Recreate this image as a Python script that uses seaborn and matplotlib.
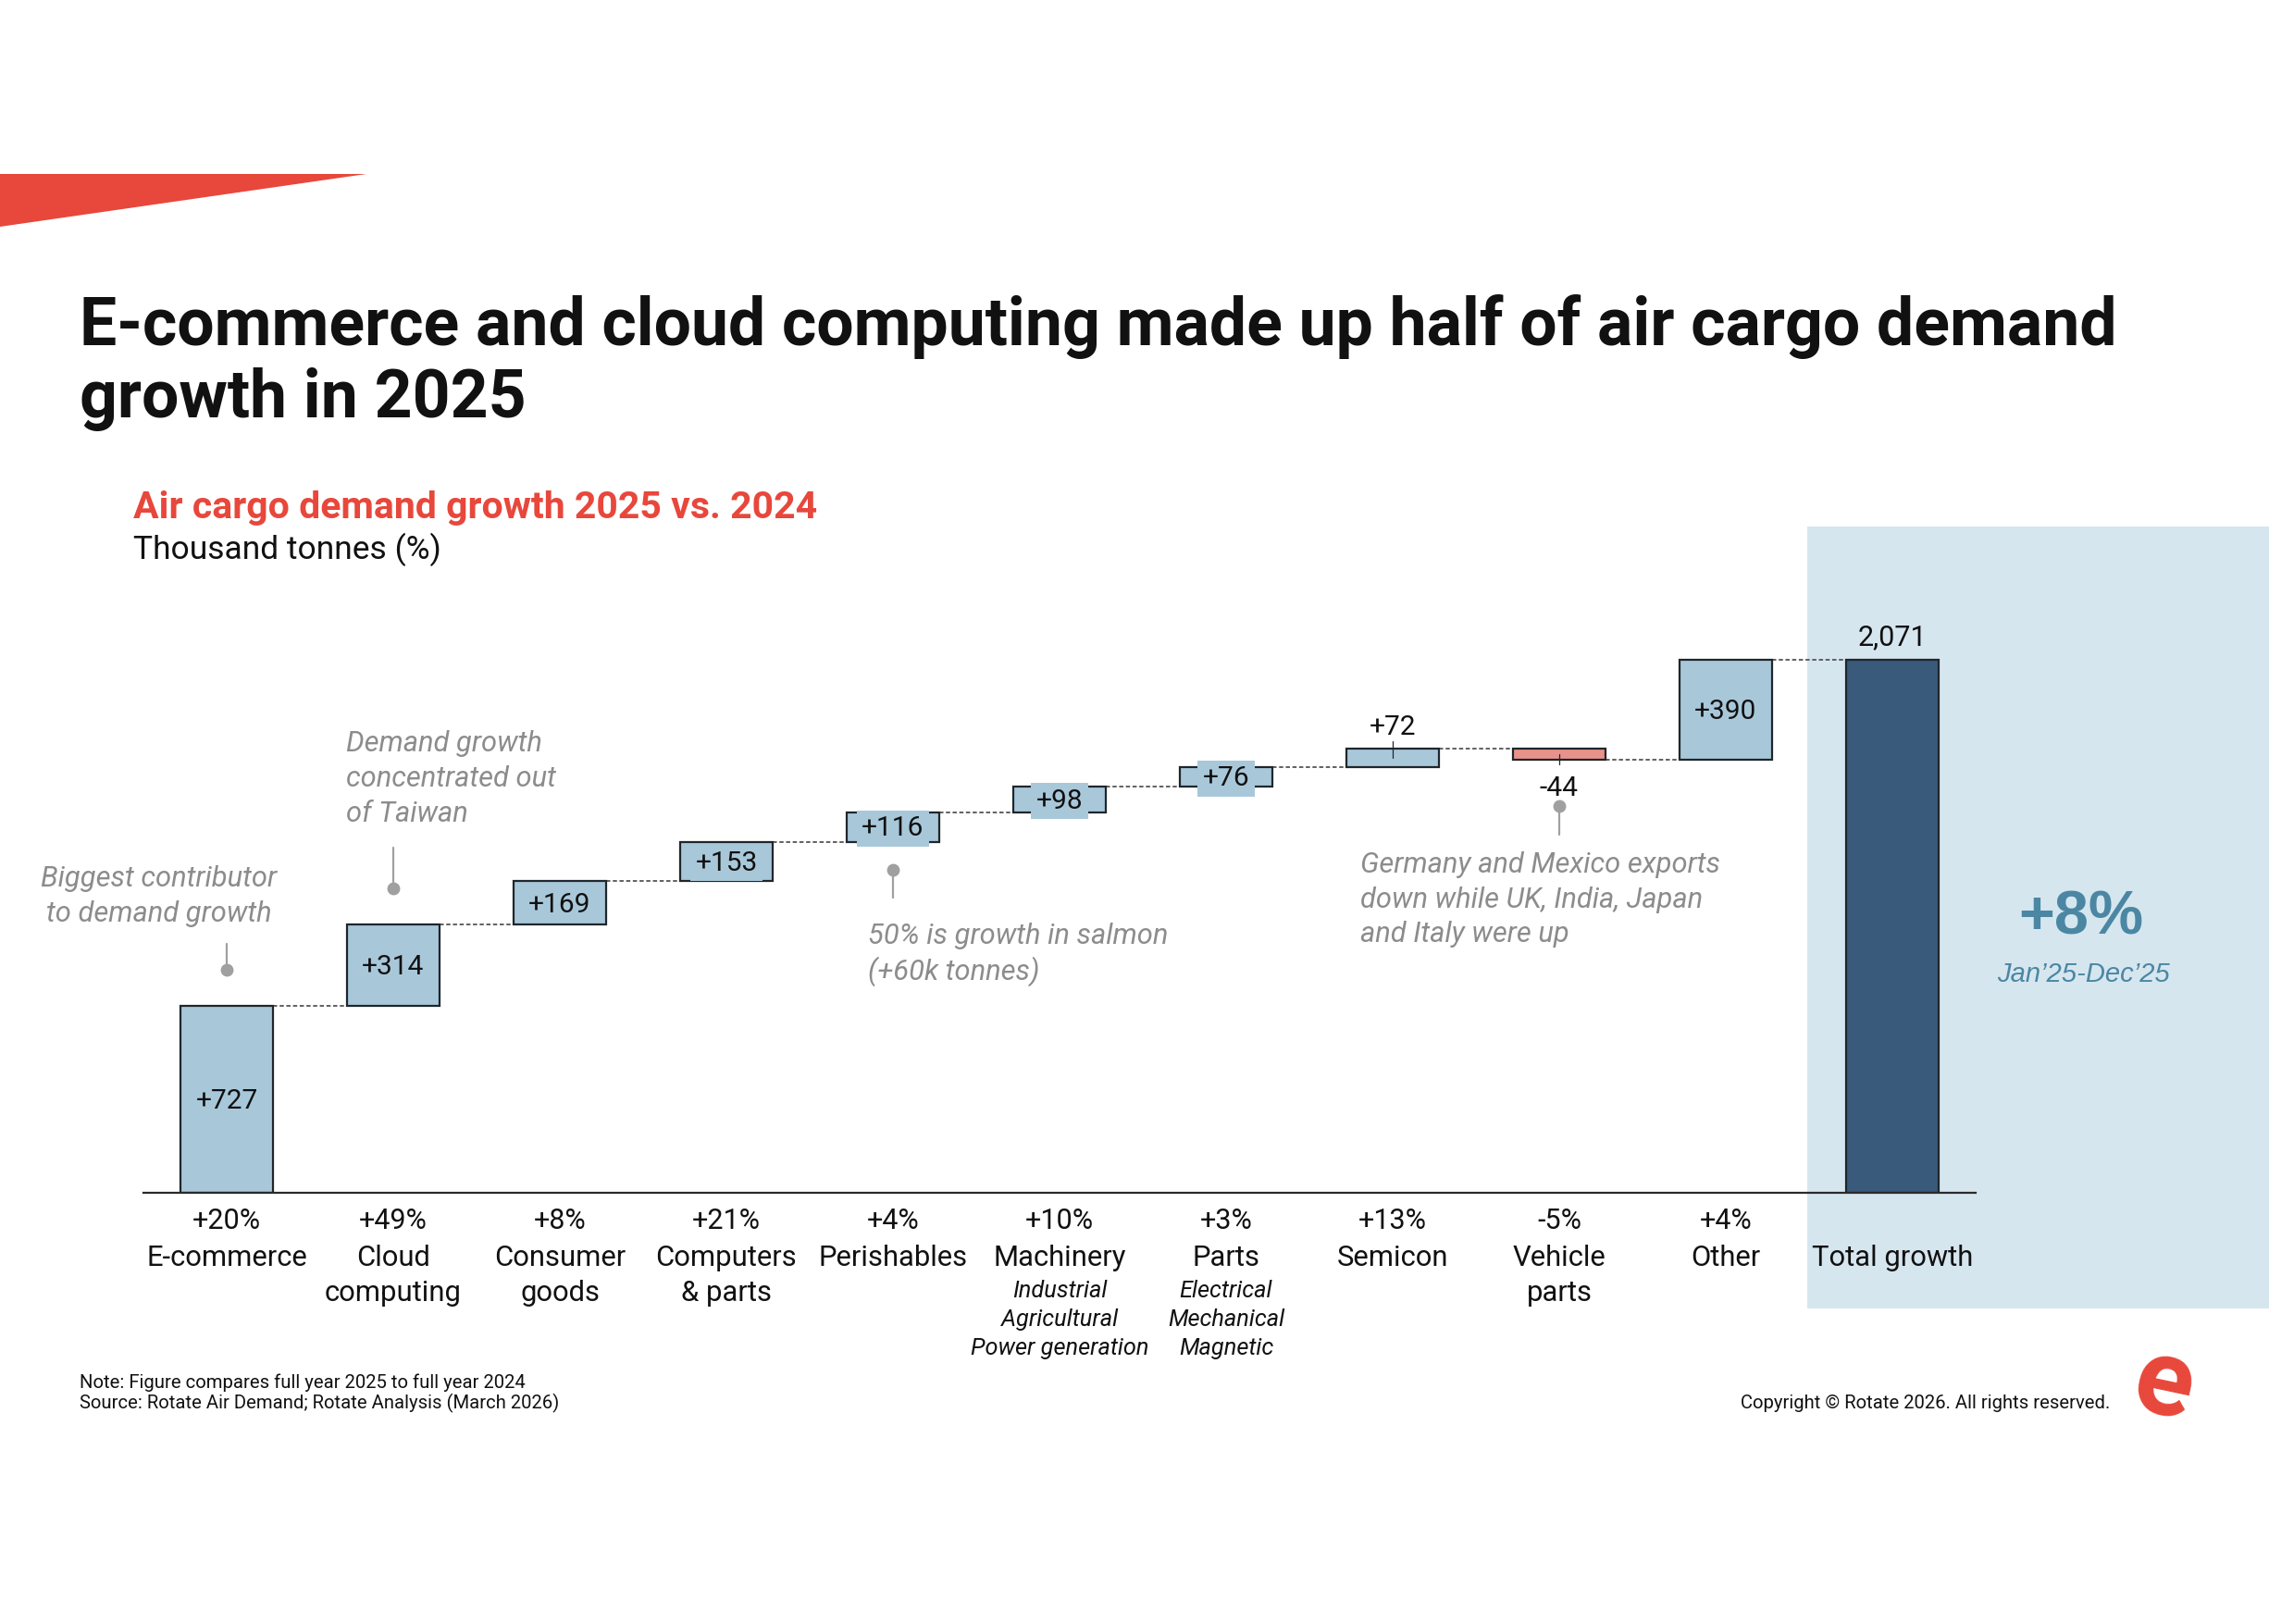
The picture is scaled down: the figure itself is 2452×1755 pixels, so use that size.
import matplotlib
matplotlib.use("Agg")
import matplotlib.pyplot as plt
import matplotlib.transforms as mtransforms
from matplotlib.patches import Polygon, Rectangle
import seaborn as sns
import pandas as pd
import numpy as np

# data
categories = ["E-commerce", "Cloud computing", "Consumer goods", "Computers & parts",
              "Perishables", "Machinery", "Parts", "Semicon", "Vehicle parts", "Other"]
name_lines = [["E-commerce"], ["Cloud", "computing"], ["Consumer", "goods"],
              ["Computers", "& parts"], ["Perishables"], ["Machinery"], ["Parts"],
              ["Semicon"], ["Vehicle", "parts"], ["Other"]]
changes = [727, 314, 169, 153, 116, 98, 76, 72, -44, 390]
pct_changes = ["+20%", "+49%", "+8%", "+21%", "+4%", "+10%", "+3%", "+13%", "-5%", "+4%"]
sub_labels = {"Machinery": ["Industrial", "Agricultural", "Power generation"],
              "Parts": ["Electrical", "Mechanical", "Magnetic"]}
total_label = "Total growth"
total_value = 2071
total_pct = "+8%"
period = "Jan\u201925-Dec\u201925"

W, H = 2452, 1755
LIGHT = "#a8c8da"
NEG = "#e8928c"
DARK = "#3a5a7c"
PANEL = "#d6e6ef"
RED = "#e8473b"
TEAL = "#4b87a3"
GREY = "#8c8c8c"
EDGE = "#1f262b"

sns.set_style("white")
plt.rcParams["font.family"] = ["Roboto", "DejaVu Sans"]

fig = plt.figure(figsize=(W / 100, H / 100), dpi=100)


def fy(px):
    return 1 - px / H


# waterfall frame
ends = np.cumsum(changes)
starts = ends - np.array(changes)
bottoms = list(np.minimum(starts, ends)) + [0]
heights = list(np.abs(changes)) + [total_value]
labels = categories + [total_label]
colors = [LIGHT if c > 0 else NEG for c in changes] + [DARK]
df = pd.DataFrame({"category": labels, "height": heights, "bottom": bottoms})

# side panel behind the total bar
fig.patches.append(Rectangle((1953 / W, fy(1414)), (W - 1953) / W, (1414 - 569) / H,
                             transform=fig.transFigure, facecolor=PANEL,
                             edgecolor="none", zorder=0))
# red wedge at top-left
fig.patches.append(Polygon([(0, fy(188)), (396 / W, fy(188)), (0, fy(245))],
                           closed=True, transform=fig.transFigure,
                           facecolor=RED, edgecolor="none", zorder=1))

ax = fig.add_axes([155 / W, fy(1289), 1980 / W, 667.5 / H])
ax.set_facecolor("none")
ax.set_zorder(2)

bar_w = 0.556
sns.barplot(data=df, x="category", y="height", hue="category", palette=colors,
            legend=False, width=bar_w, saturation=1, edgecolor=EDGE, linewidth=1.6,
            ax=ax, zorder=3)
for patch, b, h in zip(ax.patches, df["bottom"], df["height"]):
    patch.set_y(b)
    patch.set_height(h)

ax.set_xlim(-0.5, len(labels) - 0.5)
ax.set_ylim(0, 2400)
ax.set_xlabel("")
ax.set_ylabel("")
ax.set_yticks([])
ax.tick_params(axis="x", length=0, labelbottom=False)
for s in ["top", "right", "left"]:
    ax.spines[s].set_visible(False)
ax.spines["bottom"].set_color("#2b2b2b")
ax.spines["bottom"].set_linewidth(1.6)
ax.spines["bottom"].set_zorder(4)

# dashed connectors
for i, lev in enumerate(ends):
    ax.plot([i + bar_w / 2, i + 1 - bar_w / 2], [lev, lev], color="#555555",
            lw=1.3, ls=(0, (2.5, 1.5)), zorder=2)

# value labels
VAL_FS = 21.5
for i, v in enumerate(changes):
    txt = f"{v:+d}"
    mid = bottoms[i] + heights[i] / 2
    if categories[i] == "Semicon":
        ax.plot([i, i], [ends[i] - 35, ends[i] + 28], color=EDGE, lw=0.9, zorder=4)
        ax.annotate(txt, (i, ends[i]), xytext=(0, 7), textcoords="offset points",
                    ha="center", va="bottom", fontsize=VAL_FS, color="#111", zorder=5)
    elif v < 0:
        ax.plot([i, i], [starts[i] - 22, starts[i] - 62], color=EDGE, lw=0.9, zorder=4)
        ax.annotate(txt, (i, ends[i]), xytext=(0, -12), textcoords="offset points",
                    ha="center", va="top", fontsize=VAL_FS, color="#111", zorder=5)
    else:
        ax.text(i, mid - 6, txt, ha="center", va="center", fontsize=VAL_FS, color="#111",
                zorder=5, bbox=dict(boxstyle="square,pad=0.18", facecolor=LIGHT,
                                    edgecolor="none"))
n = len(categories)
ax.annotate(f"{total_value:,}", (n, total_value), xytext=(0, 7),
            textcoords="offset points", ha="center", va="bottom", fontsize=22,
            color="#111")

# category labels under the axis
tr = mtransforms.blended_transform_factory(ax.transData, fig.transFigure)
for i, cat in enumerate(categories):
    ax.text(i, fy(1320), pct_changes[i], transform=tr, ha="center", va="center",
            fontsize=22, color="#111")
    for k, line in enumerate(name_lines[i]):
        ax.text(i, fy(1359 + 38 * k), line, transform=tr, ha="center", va="center",
                fontsize=22.3, color="#111")
    for k, line in enumerate(sub_labels.get(cat, [])):
        ax.text(i, fy(1395 + 31 * k), line, transform=tr, ha="center", va="center",
                fontsize=18.3, style="italic", color="#111")
ax.text(n, fy(1359), total_label, transform=tr, ha="center", va="center",
        fontsize=22.3, color="#111")


# annotation pins (dot + stem) tied to the bars
def pin(x, y_dot, y_end):
    ax.plot([x, x], [y_dot, y_end], color="#a0a0a0", lw=1.6, zorder=3)
    ax.plot([x], [y_dot], marker="o", ms=10, color="#a0a0a0", mec="none", zorder=3)


pin(0, ends[0] + 138, ends[0] + 240)
pin(1, ends[1] + 142, ends[1] + 300)
pin(4, starts[4] - 108, starts[4] - 216)
pin(8, starts[8] - 222, starts[8] - 334)

note_kw = dict(fontsize=22.2, style="italic", color=GREY, va="center")
for k, line in enumerate(["Biggest contributor", "to demand growth"]):
    fig.text(172 / W, fy(949 + 38 * k), line, ha="center", **note_kw)
for k, line in enumerate(["Demand growth", "concentrated out", "of Taiwan"]):
    fig.text(374 / W, fy(804 + 37.5 * k), line, ha="left", **note_kw)
for k, line in enumerate(["50% is growth in salmon", "(+60k tonnes)"]):
    fig.text(938 / W, fy(1012 + 37.5 * k), line, ha="left", **note_kw)
for k, line in enumerate(["Germany and Mexico exports", "down while UK, India, Japan",
                          "and Italy were up"]):
    fig.text(1470 / W, fy(935 + 37.5 * k), line, ha="left", **note_kw)

# total growth callout in the panel
fig.text(2249 / W, fy(993), total_pct, ha="center", va="center", fontsize=48,
         fontweight="heavy", color=TEAL, family=["Liberation Sans", "DejaVu Sans"])
fig.text(2251 / W, fy(1053), period, ha="center", va="center", fontsize=21,
         style="italic", color=TEAL, family=["Liberation Sans", "DejaVu Sans"])

# titles
fig.text(86 / W, fy(353), "E-commerce and cloud computing made up half of air cargo demand",
         ha="left", va="center", fontsize=51.5, fontweight="bold", color="#111")
fig.text(86 / W, fy(431), "growth in 2025", ha="left", va="center", fontsize=51.5,
         fontweight="bold", color="#111")
fig.text(144 / W, fy(549), "Air cargo demand growth 2025 vs. 2024", ha="left",
         va="center", fontsize=29.5, fontweight="bold", color=RED)
fig.text(144 / W, fy(594), "Thousand tonnes (%)", ha="left", va="center",
         fontsize=25.5, color="#111")

# footer
fig.text(86 / W, fy(1494), "Note: Figure compares full year 2025 to full year 2024",
         ha="left", va="center", fontsize=14.6, color="#111")
fig.text(86 / W, fy(1516), "Source: Rotate Air Demand; Rotate Analysis (March 2026)",
         ha="left", va="center", fontsize=14.6, color="#111")
fig.text(2280 / W, fy(1516), "Copyright \u00a9 Rotate 2026. All rights reserved.",
         ha="right", va="center", fontsize=14.6, color="#111")
fig.text(2339 / W, fy(1497), "e", ha="center", va="center", fontsize=84,
         fontweight="bold", color=RED, rotation=-12)

fig.savefig("out.png", dpi=100, facecolor="white")
